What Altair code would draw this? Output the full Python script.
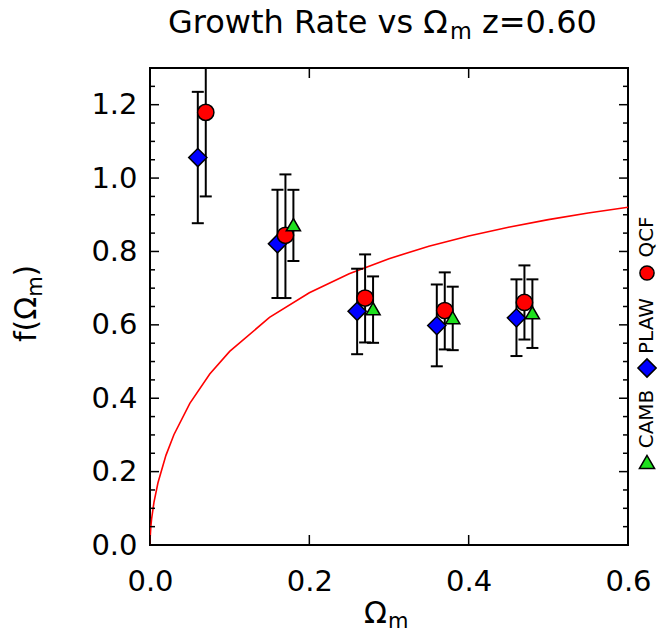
import altair as alt
import pandas as pd

# ---- data ----
plaw_x = [0.06, 0.16, 0.26, 0.36, 0.46]
plaw_y = [1.056, 0.821, 0.637, 0.598, 0.619]
plaw_lo = [0.877, 0.673, 0.520, 0.487, 0.515]
plaw_hi = [1.235, 0.968, 0.753, 0.710, 0.724]

qcf_x = [0.07, 0.17, 0.27, 0.37, 0.47]
qcf_y = [1.179, 0.844, 0.673, 0.639, 0.661]
qcf_lo = [0.950, 0.673, 0.552, 0.533, 0.560]
qcf_hi = [1.410, 1.010, 0.792, 0.743, 0.762]

camb_x = [0.18, 0.28, 0.38, 0.48]
camb_y = [0.873, 0.644, 0.620, 0.633]
camb_lo = [0.774, 0.551, 0.531, 0.537]
camb_hi = [0.968, 0.732, 0.704, 0.724]

curve_x = [0.0, 0.0002, 0.001, 0.002, 0.005, 0.01, 0.02, 0.03, 0.05, 0.075, 0.1,
           0.15, 0.2, 0.25, 0.3, 0.35, 0.4, 0.45, 0.5, 0.55, 0.6]
curve_y = [0.0, 0.0201, 0.0485, 0.0709, 0.1168, 0.1696, 0.2443, 0.3006, 0.3862,
           0.4658, 0.5277, 0.6202, 0.6875, 0.7392, 0.7804, 0.8141, 0.8423, 0.8662,
           0.8868, 0.9047, 0.9204]

series_names = ["PLAW", "QCF", "CAMB"]
series_colors = ["#0000ff", "#ff0000", "#1ee01e"]
series_shapes = ["diamond", "circle", "triangle-up"]
series_sizes = [330, 200, 230]

x_major = [0.0, 0.2, 0.4, 0.6]
y_major = [0.0, 0.2, 0.4, 0.6, 0.8, 1.0, 1.2]
y_minor = [0.05, 0.1, 0.15, 0.25, 0.3, 0.35, 0.45, 0.5, 0.55, 0.65, 0.7, 0.75,
           0.85, 0.9, 0.95, 1.05, 1.1, 1.15, 1.25]

# text pieces (subscript "m" drawn smaller and lowered, as in the reference)
TITLE_MAIN = "Growth Rate vs Ω"
TITLE_SUB = "m"
TITLE_END = "z=0.60"
XTITLE_MAIN = "Ω"
XTITLE_SUB = "m"
YTITLE_MAIN = "f(Ω"
YTITLE_SUB = "m"
YTITLE_END = ")"

FONT = "DejaVu Sans"
W, H = 478, 477

rows = []
for name, xs, ys, los, his in [
    ("PLAW", plaw_x, plaw_y, plaw_lo, plaw_hi),
    ("QCF", qcf_x, qcf_y, qcf_lo, qcf_hi),
    ("CAMB", camb_x, camb_y, camb_lo, camb_hi),
]:
    for a, b, c, d in zip(xs, ys, los, his):
        rows.append({"series": name, "x": a, "y": b, "lo": c, "hi": d})
pts = pd.DataFrame(rows)
curve = pd.DataFrame({"x": curve_x, "y": curve_y})

xscale = alt.Scale(domain=[0, 0.6], nice=False, zero=False)
yscale = alt.Scale(domain=[0, 1.3], nice=False, zero=False)

x_axis = alt.Axis(values=x_major, format=".1f", ticks=False, domain=False, grid=False,
                  labelFontSize=29, labelFont=FONT, labelColor="black", labelPadding=22,
                  labelFlush=False, labelOverlap=False, labelBound=False, title="")
y_axis = alt.Axis(values=y_major, format=".1f", ticks=False, domain=False, grid=False,
                  labelFontSize=29, labelFont=FONT, labelColor="black", labelPadding=13,
                  labelOverlap=False, labelBound=False, title="")


def X(field):
    return alt.X(field, scale=xscale, axis=x_axis)


def Y(field):
    return alt.Y(field, scale=yscale, axis=y_axis)


line = alt.Chart(curve).mark_line(color="#ff0000", strokeWidth=1.6, clip=True).encode(
    x=X("x:Q"), y=Y("y:Q"))

bars = alt.Chart(pts).mark_rule(color="black", strokeWidth=2, clip=True).encode(
    x=X("x:Q"), y=Y("lo:Q"), y2="hi:Q")
cap_lo = alt.Chart(pts).mark_tick(color="black", orient="horizontal", size=12,
                                  thickness=2, clip=True, opacity=1).encode(
    x=X("x:Q"), y=Y("lo:Q"))
cap_hi = alt.Chart(pts).mark_tick(color="black", orient="horizontal", size=12,
                                  thickness=2, clip=True, opacity=1).encode(
    x=X("x:Q"), y=Y("hi:Q"))

markers = alt.Chart(pts).mark_point(filled=True, stroke="black", strokeWidth=1.5,
                                    opacity=1, strokeOpacity=1, fillOpacity=1).encode(
    x=X("x:Q"),
    y=Y("y:Q"),
    fill=alt.Fill("series:N", scale=alt.Scale(domain=series_names, range=series_colors),
                  legend=None),
    shape=alt.Shape("series:N", scale=alt.Scale(domain=series_names, range=series_shapes),
                    legend=None),
    size=alt.Size("series:N", scale=alt.Scale(domain=series_names, range=series_sizes),
                  legend=None),
    order=alt.Order("ord:Q"),
).transform_calculate(ord="datum.series == 'PLAW' ? 0 : (datum.series == 'QCF' ? 1 : 2)")


# inward ticks on all four sides
def yticks(values, length):
    d = pd.DataFrame({"v": values})
    left = alt.Chart(d).mark_rule(color="black", strokeWidth=1.5).encode(
        y=Y("v:Q"), x=alt.value(0), x2=alt.value(length))
    right = alt.Chart(d).mark_rule(color="black", strokeWidth=1.5).encode(
        y=Y("v:Q"), x=alt.value(W - length), x2=alt.value(W))
    return [left, right]


def xticks(values, length):
    d = pd.DataFrame({"v": values})
    bottom = alt.Chart(d).mark_rule(color="black", strokeWidth=1.5).encode(
        x=X("v:Q"), y=alt.value(H), y2=alt.value(H - length))
    top = alt.Chart(d).mark_rule(color="black", strokeWidth=1.5).encode(
        x=X("v:Q"), y=alt.value(0), y2=alt.value(length))
    return [bottom, top]


tick_layers = yticks(y_major, 9) + yticks(y_minor, 5) + xticks(x_major, 10)

one = pd.DataFrame({"k": [0]})


def label(text, px, py, size, align="left", baseline="alphabetic", angle=0):
    kw = dict(text=text, font=FONT, fontSize=size, align=align, baseline=baseline,
              color="black")
    if angle:
        kw["angle"] = angle
    return alt.Chart(one).mark_text(**kw).encode(x=alt.value(px), y=alt.value(py))


# custom rotated legend at the right edge
legend_layers = []
leg_x = 497
for name, color, shape, size, ym, yt in [
    ("QCF", "#ff0000", "circle", 200, 205, 169),
    ("PLAW", "#0000ff", "diamond", 330, 300, 258),
    ("CAMB", "#1ee01e", "triangle-up", 230, 394, 351),
]:
    legend_layers.append(
        alt.Chart(one).mark_point(filled=True, fill=color, stroke="black", strokeWidth=1.5,
                                  shape=shape, size=size, opacity=1).encode(
            x=alt.value(leg_x), y=alt.value(ym)))
    legend_layers.append(label(name, leg_x, yt, 20, align="center", baseline="middle",
                               angle=270))

text_layers = [
    # title
    label(TITLE_MAIN, 18, -35, 32),
    label(TITLE_SUB, 300, -29, 22.4),
    label(TITLE_END, 332, -35, 32),
    # x axis title
    label(XTITLE_MAIN, 214, H + 78, 30),
    label(XTITLE_SUB, 238, H + 83, 21),
    # y axis title (rotated, reading upward)
    label(YTITLE_MAIN, -114, 274, 30, angle=270),
    label(YTITLE_SUB, -108, 228.8, 21, angle=270),
    label(YTITLE_END, -114, 208.4, 30, angle=270),
]

chart = alt.layer(line, bars, cap_lo, cap_hi, markers, *tick_layers, *legend_layers,
                  *text_layers).properties(
    width=W, height=H,
    autosize=alt.AutoSizeParams(type="none"),
    padding={"left": 142, "top": 60, "right": 29, "bottom": 85},
).configure_view(stroke="black", strokeWidth=2)

chart.save("out.html", embed_options={"renderer": "svg", "actions": False})
